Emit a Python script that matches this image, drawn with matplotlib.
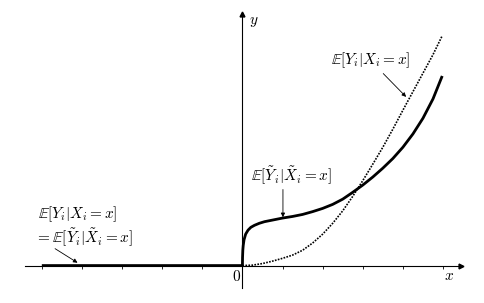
import matplotlib
matplotlib.use("Agg")
import matplotlib.pyplot as plt

plt.rcParams["mathtext.fontset"] = "cm"
plt.rcParams["font.family"] = "serif"
plt.rcParams["font.serif"] = ["DejaVu Serif"]

# values
# E[Y~|X~=x]: zero on the left, steep rise at 0, flat shoulder, then convex
solid_x = [-5.0, 0.0, 0.003, 0.01, 0.02, 0.04, 0.08, 0.14, 0.21, 0.3, 0.42, 0.55,
           0.7, 0.85, 1.0, 1.25, 1.5, 1.75, 2.0, 2.25, 2.5, 2.75, 3.0, 3.25,
           3.5, 3.75, 4.0, 4.25, 4.5, 4.75, 4.98]
solid_y = [0.0, 0.0, 0.2, 0.38, 0.5, 0.64, 0.78, 0.88, 0.95, 1.0, 1.05, 1.09,
           1.12, 1.15, 1.18, 1.22, 1.27, 1.34, 1.42, 1.52, 1.65, 1.82, 2.0, 2.2,
           2.42, 2.66, 2.94, 3.27, 3.66, 4.14, 4.71]

# E[Y|X=x]: dotted, starts at 0
dotted_x = [0.0, 0.25, 0.5, 0.75, 1.0, 1.25, 1.5, 1.75, 2.0, 2.25, 2.5, 2.75,
            3.0, 3.25, 3.5, 3.75, 4.0, 4.25, 4.5, 4.75, 4.97]
dotted_y = [0.0, 0.01, 0.05, 0.11, 0.18, 0.26, 0.38, 0.56, 0.78, 1.05, 1.36, 1.72,
            2.11, 2.52, 2.94, 3.39, 3.86, 4.32, 4.78, 5.24, 5.69]

tick_pos = [-5, -4, -3, -2, -1, 1, 2, 3, 4, 5]

lbl_obs = r"$\mathbb{E}[Y_i|X_i=x]$"
lbl_lat = r"$\mathbb{E}[\tilde{Y}_i|\tilde{X}_i=x]$"
lbl_eq = r"$=\mathbb{E}[\tilde{Y}_i|\tilde{X}_i=x]$"

fig = plt.figure(figsize=(4.85, 3.03), dpi=100)
ax = fig.add_axes((0.0515, 0.0505, 0.9, 0.902))
ax.set_xlim(-5.42, 5.46)
ax.set_ylim(-0.55, 6.24)

# axes through the origin, with arrow heads
ax.spines["left"].set_position(("data", 0))
ax.spines["bottom"].set_position(("data", 0))
ax.spines["top"].set_visible(False)
ax.spines["right"].set_visible(False)
for s in ("left", "bottom"):
    ax.spines[s].set_linewidth(0.8)
ax.plot(1, 0, ">", color="black", ms=3.5, transform=ax.get_yaxis_transform(), clip_on=False)
ax.plot(0, 1, "^", color="black", ms=3.5, transform=ax.get_xaxis_transform(), clip_on=False)

ax.set_xticks(tick_pos)
ax.set_xticklabels([])
ax.tick_params(axis="x", direction="out", length=2.2, width=0.6)
ax.set_yticks([])

ax.plot(solid_x, solid_y, color="black", lw=2.0, solid_capstyle="butt")
ax.plot(dotted_x, dotted_y, color="black", lw=1.2, linestyle=(0, (1, 0.8)))

fs = 11
ax.text(0.29, 6.04, r"$y$", fontsize=fs, ha="center", va="center")
ax.text(5.16, -0.26, r"$x$", fontsize=fs, ha="center", va="center")
ax.text(-0.15, -0.26, r"$0$", fontsize=fs, ha="center", va="center")

arrow = dict(arrowstyle="-|>", lw=0.6, color="black", mutation_scale=6, shrinkA=0, shrinkB=0)

ax.text(3.21, 5.09, lbl_obs, fontsize=fs, ha="center", va="center")
ax.annotate("", xy=(4.08, 4.19), xytext=(3.51, 4.77), arrowprops=arrow)

ax.text(1.21, 2.22, lbl_lat, fontsize=fs, ha="center", va="center")
ax.annotate("", xy=(1.01, 1.2), xytext=(1.01, 1.89), arrowprops=arrow)

ax.text(-5.09, 1.27, lbl_obs, fontsize=fs, ha="left", va="center")
ax.text(-5.17, 0.70, lbl_eq, fontsize=fs, ha="left", va="center")
ax.annotate("", xy=(-4.11, 0.07), xytext=(-4.67, 0.42), arrowprops=arrow)

fig.savefig("out.png", dpi=100)
